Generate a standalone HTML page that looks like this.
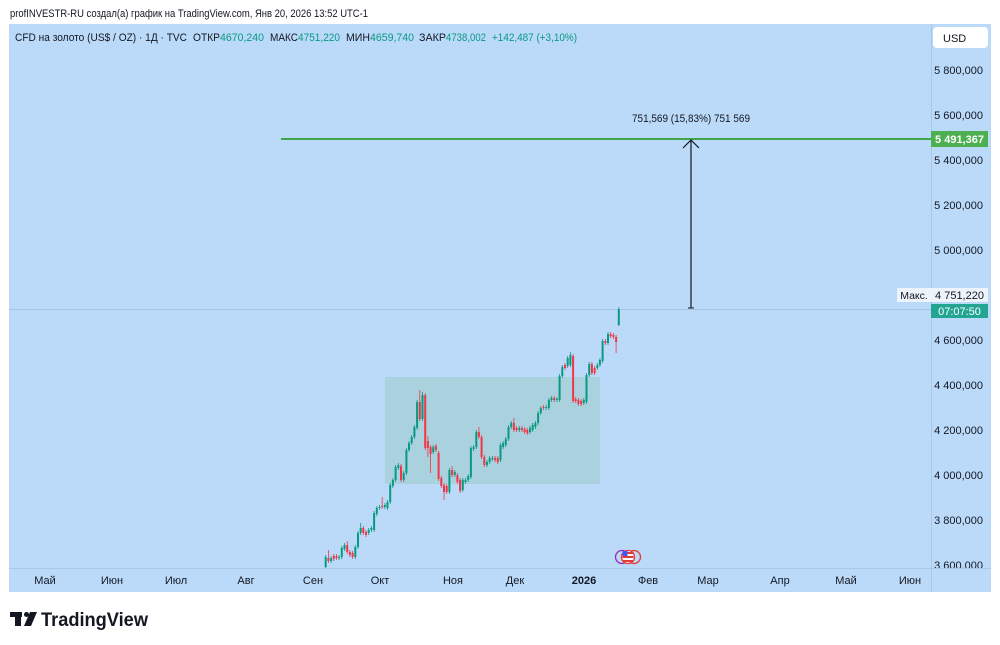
<!DOCTYPE html>
<html><head><meta charset="utf-8">
<style>
html,body{margin:0;padding:0;background:#fff;width:1000px;height:645px;overflow:hidden}
svg{display:block}
text{font-family:"Liberation Sans","Noto Sans CJK SC",sans-serif}
</style></head>
<body>
<svg width="1000" height="645" viewBox="0 0 1000 645" xmlns="http://www.w3.org/2000/svg">
<rect x="0" y="0" width="1000" height="645" fill="#ffffff"/>
<text x="10" y="17" font-size="11" fill="#131722" textLength="358" lengthAdjust="spacingAndGlyphs">profINVESTR-RU создал(а) график на TradingView.com, Янв 20, 2026 13:52 UTC-1</text>
<!-- panel -->
<rect x="9" y="24" width="982" height="568" fill="#bbdaf9"/>
<line x1="931.5" y1="24" x2="931.5" y2="592" stroke="#a8c8e8" stroke-width="1"/>
<line x1="9" y1="568.5" x2="991" y2="568.5" stroke="#a8c8e8" stroke-width="1"/>
<!-- legend -->
<g font-size="11">
<text x="15" y="41" fill="#131722" textLength="172" lengthAdjust="spacingAndGlyphs">CFD на золото (US$ / OZ) · 1Д · TVC</text>
<text x="193" y="41" fill="#131722" textLength="27" lengthAdjust="spacingAndGlyphs">ОТКР</text>
<text x="220" y="41" fill="#089981" textLength="44" lengthAdjust="spacingAndGlyphs">4670,240</text>
<text x="270" y="41" fill="#131722" textLength="28" lengthAdjust="spacingAndGlyphs">МАКС</text>
<text x="298" y="41" fill="#089981" textLength="42" lengthAdjust="spacingAndGlyphs">4751,220</text>
<text x="346" y="41" fill="#131722" textLength="24" lengthAdjust="spacingAndGlyphs">МИН</text>
<text x="370" y="41" fill="#089981" textLength="44" lengthAdjust="spacingAndGlyphs">4659,740</text>
<text x="419" y="41" fill="#131722" textLength="27" lengthAdjust="spacingAndGlyphs">ЗАКР</text>
<text x="446" y="41" fill="#089981" textLength="40" lengthAdjust="spacingAndGlyphs">4738,002</text>
<text x="492" y="41" fill="#089981" textLength="85" lengthAdjust="spacingAndGlyphs">+142,487 (+3,10%)</text>
</g>
<!-- USD box -->
<rect x="933" y="27" width="55" height="21" rx="4" fill="#ffffff"/>
<text x="943" y="42" font-size="11" fill="#131722">USD</text>
<!-- price axis labels -->
<g font-size="11" fill="#131722" text-anchor="end">
<text x="983" y="74">5 800,000</text>
<text x="983" y="119">5 600,000</text>
<text x="983" y="164">5 400,000</text>
<text x="983" y="209">5 200,000</text>
<text x="983" y="254">5 000,000</text>
<text x="983" y="344">4 600,000</text>
<text x="983" y="389">4 400,000</text>
<text x="983" y="434">4 200,000</text>
<text x="983" y="479">4 000,000</text>
<text x="983" y="524">3 800,000</text>
</g>
<svg x="931" y="555" width="60" height="13"><text x="52" y="14" font-size="11" fill="#131722" text-anchor="end">3 600,000</text></svg>
<!-- time axis labels -->
<g font-size="11" fill="#131722" text-anchor="middle">
<text x="45" y="584">Май</text>
<text x="112" y="584">Июн</text>
<text x="176" y="584">Июл</text>
<text x="246" y="584">Авг</text>
<text x="313" y="584">Сен</text>
<text x="380" y="584">Окт</text>
<text x="453" y="584">Ноя</text>
<text x="515" y="584">Дек</text>
<text x="584" y="584" font-weight="bold">2026</text>
<text x="648" y="584">Фев</text>
<text x="708" y="584">Мар</text>
<text x="780" y="584">Апр</text>
<text x="846" y="584">Май</text>
<text x="910" y="584">Июн</text>
</g>
<!-- rectangle -->
<rect x="385" y="377" width="215" height="107" fill="#a9d1de"/>
<!-- last price line -->
<line x1="9" y1="309.5" x2="931" y2="309.5" stroke="#a3c5e8" stroke-width="1"/>
<!-- green level line -->
<line x1="281" y1="139" x2="931" y2="139" stroke="#43a548" stroke-width="2"/>
<rect x="931" y="131" width="57" height="16" fill="#4caf50"/>
<text x="959.5" y="143" font-size="11" fill="#ffffff" text-anchor="middle" font-weight="bold">5 491,367</text>
<!-- arrow -->
<line x1="691" y1="140" x2="691" y2="308" stroke="#131722" stroke-width="1.2"/>
<polyline points="683,148 691,140 699,148" fill="none" stroke="#131722" stroke-width="1.2"/>
<line x1="688" y1="308" x2="694" y2="308" stroke="#131722" stroke-width="1"/>
<text x="691" y="122" font-size="11" fill="#131722" text-anchor="middle" textLength="118" lengthAdjust="spacingAndGlyphs">751,569 (15,83%) 751 569</text>
<!-- max / countdown labels -->
<rect x="897" y="288" width="34" height="14" fill="#eef4fb"/>
<text x="914" y="299" font-size="10.5" fill="#131722" text-anchor="middle">Макс.</text>
<rect x="931" y="288" width="57" height="14" fill="#eef4fb"/>
<text x="959.5" y="299" font-size="11" fill="#131722" text-anchor="middle">4 751,220</text>
<rect x="931" y="304" width="57" height="14" fill="#22a693"/>
<text x="959.5" y="315" font-size="11" fill="#ffffff" text-anchor="middle">07:07:50</text>
<!-- candles: green wicks -->
<path fill="none" stroke="#089981" stroke-width="0.8" d="M325.7 555V568M331.1 556V563M339.1 555V560M341.8 546V559M344.5 543V551M355.3 545V559M358 531V549M360.7 523V535M368.7 528V535M371.4 526V532M374.1 511V532M376.8 506V516M379.5 505V510M384.9 503V509M387.5 500V510M390.2 483V504M392.9 478V488M395.6 465V482M398.3 463V470M403.7 471V482M406.4 448V475M409 441V452M411.7 435V445M414.4 425V439M417.1 400V430M422.5 392V421M433.2 445V454M449.4 468V494M454.8 470V477M462.8 478V492M465.5 478V484M468.2 474V482M470.9 446V479M473.6 445V451M476.3 430V449M487 460V467M489.7 456V464M492.4 456V461M500.5 443V462M503.1 441V449M505.8 437V447M508.5 425V441M511.2 421V429M519.3 426V432M530 426V434M532.7 423V432M535.4 421V429M538.1 411V425M540.8 406V415M546.2 405V410M548.9 398V410M551.5 396V402M556.9 397V402M559.6 374V402M562.3 365V378M567.7 356V368M570.4 352V367M583.8 398V405M586.5 373V404M589.2 362V377M597.3 363V370M599.9 358V367M602.6 339V363M608 332V345M618.8 307V326"/>
<!-- green bodies -->
<path fill="#089981" d="M324.7 557h2v10h-2zM330.1 558h2v3h-2zM338.1 557h2v1h-2zM340.8 548h2v9h-2zM343.5 545h2v4h-2zM354.3 547h2v10h-2zM357 533h2v14h-2zM359.7 528h2v5h-2zM367.7 530h2v3h-2zM370.4 528h2v2h-2zM373.1 513h2v17h-2zM375.8 508h2v6h-2zM378.5 507h2v1h-2zM383.9 505h2v2h-2zM386.5 502h2v6h-2zM389.2 485h2v17h-2zM391.9 480h2v6h-2zM394.6 467h2v13h-2zM397.3 465h2v3h-2zM402.7 473h2v7h-2zM405.4 450h2v23h-2zM408 443h2v7h-2zM410.7 437h2v6h-2zM413.4 427h2v10h-2zM416.1 402h2v26h-2zM421.5 395h2v24h-2zM432.2 447h2v5h-2zM448.4 470h2v22h-2zM453.8 472h2v3h-2zM461.8 480h2v10h-2zM464.5 480h2v2h-2zM467.2 476h2v4h-2zM469.9 448h2v29h-2zM472.6 447h2v2h-2zM475.3 432h2v15h-2zM486 462h2v3h-2zM488.7 458h2v4h-2zM491.4 458h2v1h-2zM499.5 445h2v15h-2zM502.1 443h2v4h-2zM504.8 439h2v6h-2zM507.5 427h2v12h-2zM510.2 423h2v4h-2zM518.3 428h2v2h-2zM529 428h2v4h-2zM531.7 425h2v5h-2zM534.4 423h2v4h-2zM537.1 413h2v10h-2zM539.8 408h2v5h-2zM545.2 407h2v1h-2zM547.9 400h2v8h-2zM550.5 398h2v2h-2zM555.9 399h2v1h-2zM558.6 376h2v24h-2zM561.3 367h2v9h-2zM566.7 358h2v8h-2zM569.4 355h2v10h-2zM582.8 400h2v3h-2zM585.5 375h2v27h-2zM588.2 364h2v11h-2zM596.3 365h2v3h-2zM598.9 360h2v5h-2zM601.6 341h2v20h-2zM607 334h2v9h-2zM617.8 309h2v16h-2z"/>
<!-- red wicks -->
<path fill="none" stroke="#f23645" stroke-width="0.8" d="M328.4 550V563M333.8 554V561M336.5 554V560M347.2 541V554M349.9 550V557M352.6 551V559M363.3 526V535M366 530V537M382.2 497V509M401 464V482M419.8 390V421M425.2 393V450M427.9 436V457M430.6 445V473M435.9 444V452M438.6 451V481M441.3 476V488M444 483V500M446.7 484V494M452.1 466V477M457.4 473V484M460.1 478V493M478.9 427V439M481.6 435V459M484.3 455V467M495.1 456V462M497.8 456V464M513.9 418V432M516.6 426V432M522 426V432M524.7 427V434M527.3 428V435M543.5 405V410M554.2 396V402M565 363V370M573.1 354V403M575.7 397V403M578.4 398V406M581.1 399V406M591.9 362V375M594.6 366V375M605.3 339V345M610.7 332V338M613.4 333V339M616.1 335V353"/>
<!-- red bodies -->
<path fill="#f23645" d="M327.4 558h2v3h-2zM332.8 556h2v3h-2zM335.5 556h2v2h-2zM346.2 545h2v7h-2zM348.9 552h2v3h-2zM351.6 553h2v4h-2zM362.3 528h2v5h-2zM365 532h2v3h-2zM381.2 506h2v1h-2zM400 466h2v14h-2zM418.8 402h2v17h-2zM424.2 395h2v53h-2zM426.9 441h2v7h-2zM429.6 447h2v7h-2zM434.9 446h2v4h-2zM437.6 453h2v26h-2zM440.3 478h2v8h-2zM443 485h2v7h-2zM445.7 486h2v6h-2zM451.1 470h2v5h-2zM456.4 475h2v7h-2zM459.1 480h2v11h-2zM477.9 432h2v5h-2zM480.6 437h2v20h-2zM483.3 457h2v8h-2zM494.1 458h2v2h-2zM496.8 458h2v4h-2zM512.9 423h2v7h-2zM515.6 428h2v2h-2zM521 428h2v2h-2zM523.7 429h2v3h-2zM526.3 430h2v3h-2zM542.5 407h2v1h-2zM553.2 398h2v2h-2zM564 365h2v3h-2zM572.1 356h2v45h-2zM574.7 399h2v2h-2zM577.4 400h2v4h-2zM580.1 401h2v3h-2zM590.9 364h2v9h-2zM593.6 368h2v5h-2zM604.3 341h2v2h-2zM609.7 334h2v2h-2zM612.4 335h2v2h-2zM615.1 337h2v5h-2z"/>
<!-- flag icon -->
<circle cx="622" cy="557" r="6.5" fill="none" stroke="#9c27b0" stroke-width="1.3"/>
<circle cx="634" cy="557" r="6.5" fill="none" stroke="#e53935" stroke-width="1.3"/>
<circle cx="628" cy="557" r="6.5" fill="#ffffff" stroke="#e53935" stroke-width="1.3"/>
<rect x="622.5" y="552" width="11" height="2" fill="#e53935"/>
<rect x="622.5" y="556" width="11" height="2" fill="#e53935"/>
<rect x="622.5" y="560" width="11" height="2" fill="#e53935"/>
<rect x="622.5" y="551" width="5" height="5" fill="#3d5afe"/>
<!-- TradingView logo -->
<g fill="#131722">
<rect x="10" y="612" width="12" height="5"/>
<rect x="15" y="612" width="6" height="14"/>
<circle cx="26.5" cy="614.5" r="2.5"/>
<polygon points="30,612 37,612 31,626 24,626"/>
</g>
<text x="41" y="626" font-size="19" font-weight="bold" fill="#131722" textLength="107" lengthAdjust="spacingAndGlyphs">TradingView</text>
</svg>
</body></html>
